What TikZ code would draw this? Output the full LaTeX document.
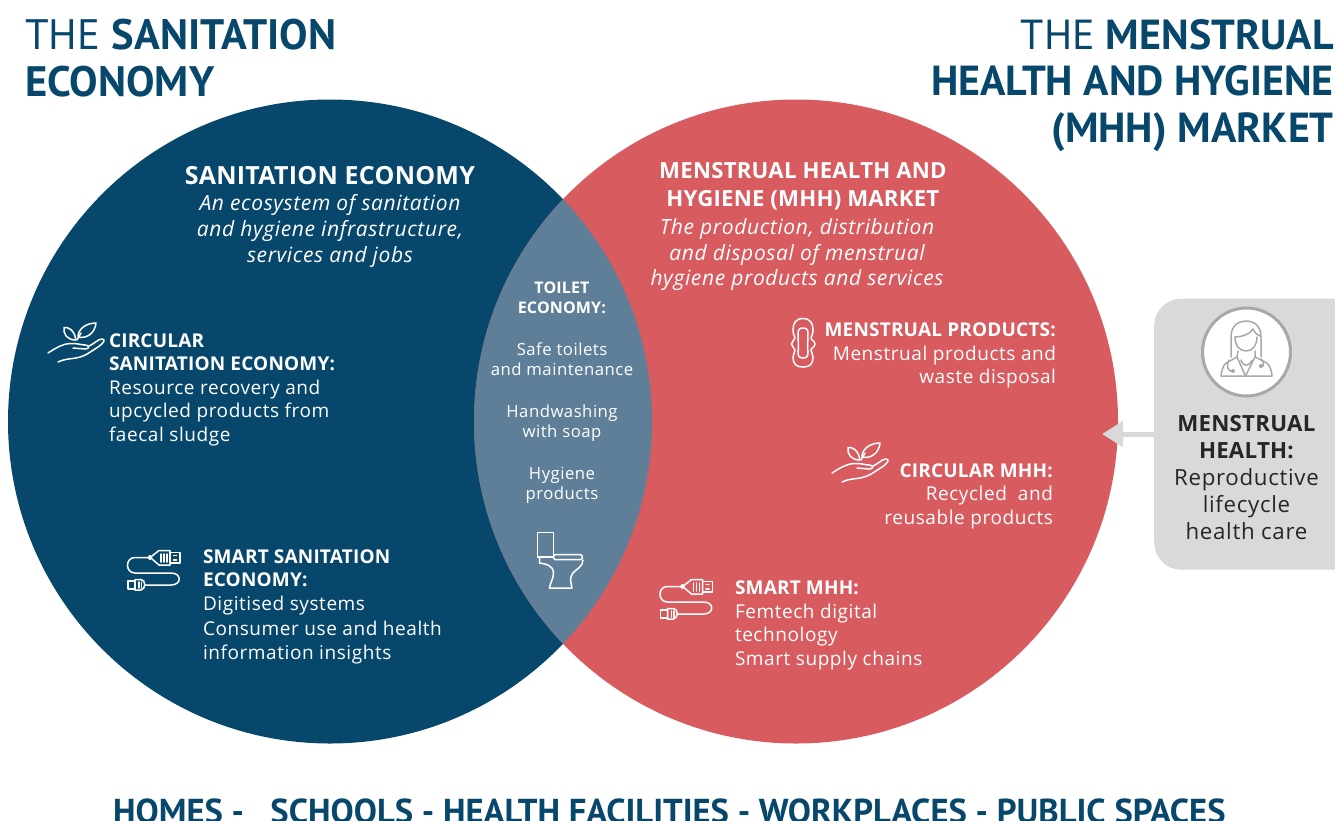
\documentclass[tikz,border=0pt]{standalone}
\usepackage{fontspec}
\setmainfont{Open Sans}[LetterSpace=3,BoldFeatures={LetterSpace=1}]
\newfontfamily\headfont{PT Sans}
\usetikzlibrary{arrows.meta}
\definecolor{navy}{HTML}{07476B}
\definecolor{coral}{HTML}{D85B5F}
\definecolor{overlap}{HTML}{5F7F99}
\definecolor{panelgrey}{HTML}{D9D9D9}
\definecolor{icongrey}{HTML}{A8A8A8}
\definecolor{inktext}{HTML}{262626}
\newcommand{\fs}[2]{\fontsize{#1}{#2}\selectfont}
\tikzset{
  blk/.style={inner sep=0pt,outer sep=0pt,text=white,font=\fs{19}{23.5}},
  ctr/.style={blk,align=center,anchor=north},
  lft/.style={blk,align=left,anchor=north west},
  rgt/.style={blk,align=right,anchor=north east},
  title/.style={inner sep=0pt,text=navy,font=\headfont\fs{42}{46.5}},
  icon/.style={draw=white,line width=1.5pt,line join=round,line cap=round,fill=none},
  handicon/.pic={
    \draw[icon] (0,31) .. controls (8,26) and (14,22) .. (22,21.5) .. controls (28,21) and (34,23) .. (37,23) .. controls (42,23) and (42,27) .. (37,27) -- (25,26);
    \draw[icon] (41,24) .. controls (46,22) and (50,17) .. (54,17) .. controls (58,17) and (56,21) .. (50,25) .. controls (42,30) and (38,34) .. (28,36) .. controls (22,37) and (16,37) .. (10,40);
    \draw[icon] (28,18) .. controls (26,7) and (20,5) .. (16,5.5) .. controls (15,12) and (19,18) .. (28,18);
    \draw[icon] (29,18) -- (33,11);
    \draw[icon] (30,15) .. controls (30,7) and (38,1) .. (48,1) .. controls (47,11) and (39,17) .. (30,15);
  },
  usbicon/.pic={
    \draw[icon] (40,22.5) -- (25,22.5) .. controls (15,22.5) and (15,38) .. (25,38) -- (61,38) .. controls (72,38) and (72,50) .. (61,50) -- (35,50);
    \draw[icon] (40,22.5) circle (1.8);
    \draw[icon] (42,21) -- (49,15.5) -- (60,15.5) -- (60,30) -- (49,30) -- (42,24);
    \draw[icon] (60,17.5) rectangle (70,28);
    \draw[icon] (51,19) -- (51,27) (54,19) -- (54,27) (57,19) -- (57,27);
    \draw[icon] (63.5,20.5) -- (66.5,20.5) (63.5,25) -- (66.5,25);
    \draw[icon] (18,46) rectangle (25,54);
    \draw[icon] (25,44.5) -- (31,44.5) .. controls (36,45) and (36,54) .. (31,55) -- (25,55) -- cycle;
    \draw[icon] (29,47) -- (29,53) (31.5,47) -- (31.5,53);
  },
  toileticon/.pic={
    \draw[icon] (27.5,12.5) rectangle (43.5,37);
    \draw[icon,rounded corners=1.5pt] (43.5,34.5) -- (72,34.5) -- (72.5,39.5) -- (43.5,39.5) -- cycle;
    \draw[icon] (29.5,37) -- (29.5,43) .. controls (36,44) and (43,45) .. (43.5,53) .. controls (43.5,59) and (40,63) .. (39.5,68) -- (62,68) .. controls (61,62) and (59,58) .. (63,53) .. controls (66,49) and (73,47) .. (73,40);
  },
  padicon/.pic={
    \draw[icon] (23,8.5) .. controls (30,8.5) and (33,13) .. (33,20) .. controls (33,25) and (31,26) .. (31,28) .. controls (31,30) and (35,31) .. (35,34) .. controls (35,37) and (31,38) .. (31,40) .. controls (31,43) and (33,44) .. (33,47) .. controls (33,54) and (30,57) .. (23,57) .. controls (16,57) and (13,54) .. (13,47) .. controls (13,44) and (15,43) .. (15,40) .. controls (15,38) and (11.5,37) .. (11.5,34) .. controls (11.5,31) and (15,30) .. (15,28) .. controls (15,26) and (13,25) .. (13,20) .. controls (13,13) and (16,8.5) .. (23,8.5) -- cycle;
    \draw[icon] (23,18) .. controls (27,18) and (28,20) .. (28,24) .. controls (28,30) and (27,38) .. (28,42) .. controls (28,46) and (27,48) .. (23,48) .. controls (19,48) and (18,46) .. (18,42) .. controls (19,38) and (18,30) .. (18,24) .. controls (18,20) and (19,18) .. (23,18) -- cycle;
  },
  docicon/.pic={
    \begin{scope}[icon,draw=icongrey,line width=1.5pt]
    \draw (136,62) -- (136,42) .. controls (136,30) and (144,26) .. (151,26) .. controls (160,26) and (166,32) .. (166,42) -- (166,62);
    \draw (140,42) .. controls (148,42) and (156,38) .. (158,34) .. controls (160,38) and (162,40) .. (165,41);
    \draw (140,42) .. controls (140,50) and (144,56) .. (151,56) .. controls (158,56) and (162,50) .. (162,42);
    \draw (126,81) -- (177,81) .. controls (176,72) and (174,68) .. (168,66) -- (160,62) -- (160,56);
    \draw (126,81) .. controls (127,72) and (129,68) .. (135,66) -- (142,62) -- (143,56);
    \draw (142,62) -- (150.5,81) -- (160,62);
    \draw (146,65) .. controls (148,72) and (154,72) .. (157,65);
    \draw (134,65) .. controls (131,70) and (132,76) .. (138,77);
    \draw (138,76) circle (1.3);
    \draw (166,64) .. controls (169,67) and (169,70) .. (168,71);
    \draw (166,71) circle (1.5);
    \end{scope}
  },
}
\begin{document}
\begin{tikzpicture}[x=1pt,y=-1pt]
\useasboundingbox (0,0) rectangle (1335,820);
\clip (0,0) rectangle (1335,820);
% circles
\node[circle,fill=navy,inner sep=0pt,minimum size=644pt] (sanc) at (330,421.5) {};
\node[circle,fill=coral,inner sep=0pt,minimum size=644pt] (mhhc) at (796,421.5) {};
\begin{scope}
  \clip (330,421.5) circle (322);
  \fill[overlap] (796,421.5) circle (322);
\end{scope}
% titles
\node[title,anchor=north west,align=left,font=\headfont\fs{42.6}{46.5}] (t1) at (25,19) {THE \textbf{SANITATION}\\\textbf{ECONOMY}};
\node[title,anchor=north east,align=right] (t2) at (1334,19) {THE \textbf{MENSTRUAL}\\\textbf{HEALTH AND HYGIENE}\\\textbf{(MHH) MARKET}};
% left circle
\node[ctr,font=\fs{25}{30}] (sh) at (330,166) {\textbf{SANITATION ECONOMY}};
\node[ctr,font=\itshape\fs{21}{26}] (sd) at (330,194.5) {An ecosystem of sanitation\\and hygiene infrastructure,\\services and jobs};
\node[lft] (cs) at (109,333.5) {\textbf{CIRCULAR}\\\textbf{SANITATION ECONOMY:}\\Resource recovery and\\upcycled products from\\faecal sludge};
\node[lft] (ss) at (203,549.5) {\textbf{SMART SANITATION}\\\textbf{ECONOMY:}\\Digitised systems\\[2pt]Consumer use and health\\information insights};
\pic at (48,322) {handicon};
\pic at (110,535) {usbicon};
% overlap
\node[ctr,font=\fs{16}{20}] (te) at (562,281.5) {\textbf{TOILET}\\\textbf{ECONOMY:}};
\node[ctr,font=\fs{16.7}{20}] (te1) at (562,343) {Safe toilets\\and maintenance};
\node[ctr,font=\fs{16.7}{20}] (te2) at (562,405) {Handwashing\\with soap};
\node[ctr,font=\fs{16.7}{20}] (te3) at (562,467) {Hygiene\\products};
\pic at (510,520) {toileticon};
% right circle
\node[ctr,font=\fs{22.2}{28}] (mh) at (803,162) {\textbf{MENSTRUAL HEALTH AND}\\\textbf{HYGIENE (MHH) MARKET}};
\node[ctr,font=\itshape\fs{21}{25.5}] (md) at (797,219) {The production, distribution\\and disposal of menstrual\\hygiene products and services};
\node[rgt] (mp) at (1056,323) {\textbf{MENSTRUAL PRODUCTS:}\\Menstrual products and\\waste disposal};
\node[rgt] (cm) at (1053,463.5) {\textbf{CIRCULAR MHH:}\\Recycled\ \ and\\reusable products};
\node[lft] (sm) at (735,581) {\textbf{SMART MHH:}\\Femtech digital\\technology\\Smart supply chains};
\pic at (780,310) {padicon};
\pic at (832,442) {handicon} ;
\pic at (642.5,564) {usbicon};
% panel
\node[fill=panelgrey,rounded corners=27pt,inner sep=0pt,minimum width=230pt,minimum height=271pt,anchor=north west] (panel) at (1154,298.5) {};
\coordinate (ptr) at (1102,434);
\draw[panelgrey,line width=5pt,-{Triangle[length=21pt,width=25pt]}] (panel.west |- ptr) -- (ptr);
\node[circle,draw=icongrey,fill=white,line width=3pt,minimum size=88pt,inner sep=0pt] (doc) at (1246.5,352) {};
\pic at (1095,295) {docicon};
\node[ctr,text=inktext,font=\fs{22.3}{27}] (pt) at (1246.5,415.5) {\textbf{MENSTRUAL}\\\textbf{HEALTH:}\\Reproductive\\lifecycle\\health care};
% bottom
\node[inner sep=0pt,anchor=base west,text=navy,font=\headfont\bfseries\fs{34.6}{36}] (bt) at (113,823.5) {HOMES -\ \ \ SCHOOLS - HEALTH FACILITIES - WORKPLACES - PUBLIC SPACES};
\end{tikzpicture}
\end{document}
